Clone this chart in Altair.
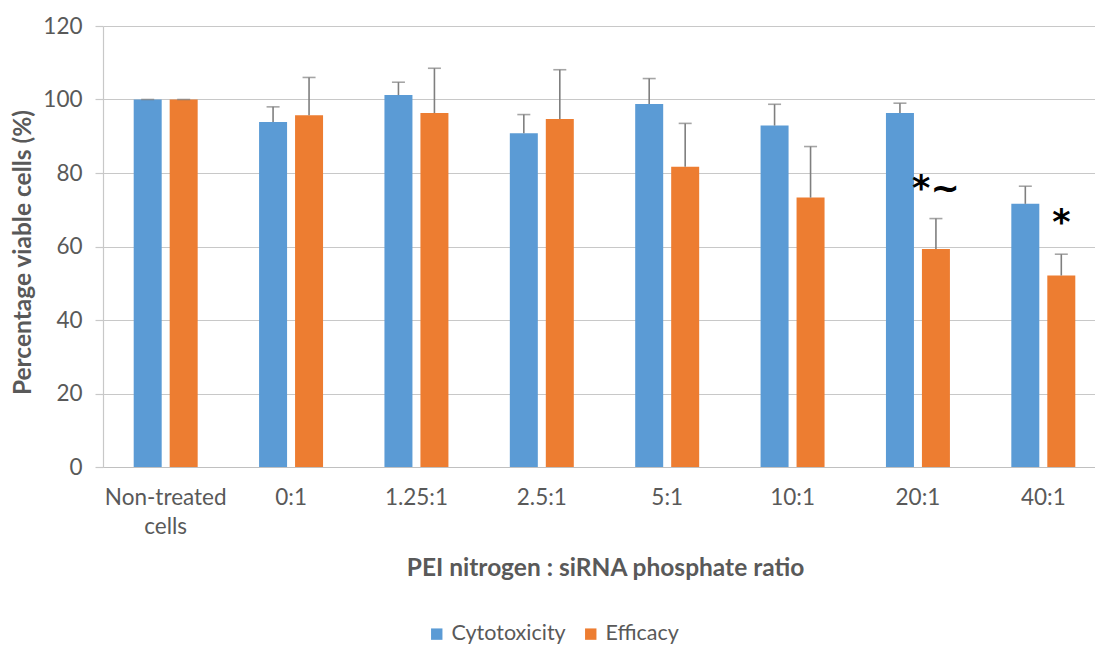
import altair as alt
import pandas as pd

categories = ["Non-treated cells", "0:1", "1.25:1", "2.5:1", "5:1", "10:1", "20:1", "40:1"]
series = ["Cytotoxicity", "Efficacy"]
colors = ["#5B9BD5", "#ED7D31"]
cytotoxicity = [100, 93.9, 101.2, 90.8, 98.8, 92.9, 96.3, 71.6]
cytotoxicity_err = [0, 4.1, 3.5, 5.1, 6.9, 5.8, 2.7, 4.8]
efficacy = [100, 95.7, 96.3, 94.7, 81.7, 73.3, 59.3, 52.1]
efficacy_err = [0, 10.3, 12.2, 13.4, 11.8, 13.9, 8.3, 5.8]
y_ticks = [0, 20, 40, 60, 80, 100, 120]

ann_categories = ["20:1", "40:1"]
ann_series = ["Efficacy", "Efficacy"]
ann_text = ["*~", "*"]
ann_y = [75.6, 66.3]

rows = []
for i, c in enumerate(categories):
    rows.append({"category": c, "series": series[0], "value": cytotoxicity[i],
                 "upper": cytotoxicity[i] + cytotoxicity_err[i]})
    rows.append({"category": c, "series": series[1], "value": efficacy[i],
                 "upper": efficacy[i] + efficacy_err[i]})
df = pd.DataFrame(rows)
ann = pd.DataFrame({"category": ann_categories, "series": ann_series,
                    "text": ann_text, "y": ann_y})

FONT = "Lato"
GREY = "#595959"
LBL = 22.5
TTL = 24.5

x_enc = alt.X(
    "category:N", sort=categories,
    scale=alt.Scale(range=[0, 1003], paddingInner=0, paddingOuter=0),
    axis=alt.Axis(
        title="PEI nitrogen : siRNA phosphate ratio",
        labelAngle=0, ticks=False, domain=True, domainColor="#c0c0c0", domainWidth=1.2,
        labelFont=FONT, labelFontSize=LBL, labelColor=GREY, labelPadding=19,
        labelLineHeight=29,
        labelExpr="datum.value == 'Non-treated cells' ? ['Non-treated', 'cells'] : datum.value",
        titleFont=FONT, titleFontSize=TTL, titleFontWeight="bold", titleColor=GREY,
        titleY=101, titleX=502, titleBaseline="middle",
    ),
)
xoff_enc = alt.XOffset("series:N", sort=series,
                       scale=alt.Scale(paddingInner=0.222, paddingOuter=0.853))
y_enc = alt.Y(
    "value:Q", scale=alt.Scale(domain=[0, 120], nice=False),
    axis=alt.Axis(
        values=y_ticks, title="Percentage viable cells (%)",
        grid=True, gridColor="#c8c8c8", gridWidth=1.2,
        domain=True, domainColor="#c8c8c8", domainWidth=1.2,
        ticks=True, tickSize=8, tickColor="#c8c8c8", tickWidth=1.2,
        labelFont=FONT, labelFontSize=LBL, labelColor=GREY, labelPadding=13,
        titleFont=FONT, titleFontSize=TTL, titleFontWeight="bold", titleColor=GREY,
        titleX=-80, titleY=226, titleAlign="center", titleBaseline="middle", titleAngle=-90,
    ),
)

bars = alt.Chart(df).mark_bar().encode(
    x=x_enc, xOffset=xoff_enc, y=y_enc,
    color=alt.Color(
        "series:N", sort=series,
        scale=alt.Scale(domain=series, range=colors),
        legend=alt.Legend(
            title=None, orient="none", direction="horizontal",
            legendX=323, legendY=597, symbolType="square", symbolSize=130,
            symbolStrokeWidth=0, labelFont=FONT, labelFontSize=21.5, labelColor=GREY,
            labelOffset=4, columnPadding=14, padding=0,
        ),
    ),
)

err = alt.Chart(df).mark_rule(color="#7f7f7f", strokeWidth=1.6).encode(
    x=alt.X("category:N", sort=categories), xOffset=alt.XOffset("series:N", sort=series),
    y="value:Q", y2="upper:Q",
)
caps = alt.Chart(df).mark_tick(color="#7f7f7f", orient="horizontal", size=13, thickness=1.6).encode(
    x=alt.X("category:N", sort=categories), xOffset=alt.XOffset("series:N", sort=series),
    y="upper:Q",
)
labels = alt.Chart(ann).mark_text(
    font="DejaVu Sans", fontSize=35, fontWeight="bold", color="#000000",
    baseline="middle", align="center",
).encode(
    x=alt.X("category:N", sort=categories), xOffset=alt.XOffset("series:N", sort=series),
    y="y:Q", text="text:N",
)

chart = alt.layer(bars, err, caps, labels).properties(
    width=992, height=441,
    autosize=alt.AutoSizeParams(type="none"),
    padding={"left": 103, "top": 26, "right": 0, "bottom": 181},
    background="white",
).configure_view(stroke=None)

chart.save("out.html", embed_options={"renderer": "svg", "actions": False})
